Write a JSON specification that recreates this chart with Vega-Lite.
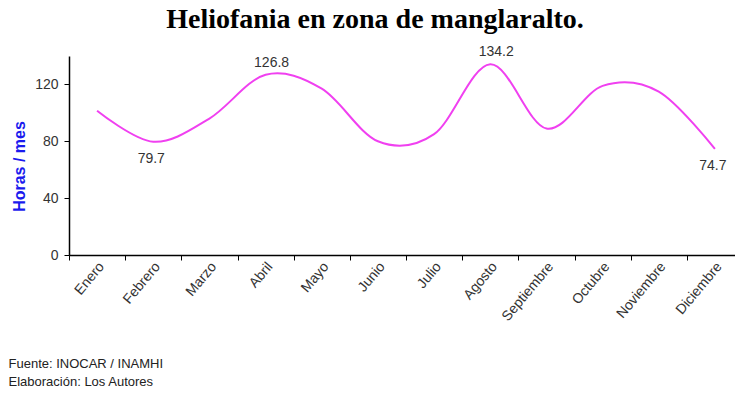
{
  "$schema": "https://vega.github.io/schema/vega-lite/v6.json",
  "autosize": "none",
  "width": 666,
  "height": 199,
  "padding": {"left": 69, "top": 56, "right": 0, "bottom": 145},
  "background": "white",
  "title": {
    "text": "Heliofania en zona de manglaralto.",
    "font": "Liberation Serif",
    "fontSize": 28,
    "fontWeight": "bold",
    "color": "#000000",
    "anchor": "middle",
    "frame": "group",
    "dx": -27,
    "offset": 11
  },
  "data": {
    "values": [
      {"mes": "Enero", "horas": 101.5, "pos": ""},
      {"mes": "Febrero", "horas": 79.7, "pos": "abajo"},
      {"mes": "Marzo", "horas": 96, "pos": ""},
      {"mes": "Abril", "horas": 126.8, "pos": "arriba"},
      {"mes": "Mayo", "horas": 117, "pos": ""},
      {"mes": "Junio", "horas": 80, "pos": ""},
      {"mes": "Julio", "horas": 85, "pos": ""},
      {"mes": "Agosto", "horas": 134.2, "pos": "arriba"},
      {"mes": "Septiembre", "horas": 89, "pos": ""},
      {"mes": "Octubre", "horas": 119, "pos": ""},
      {"mes": "Noviembre", "horas": 115, "pos": ""},
      {"mes": "Diciembre", "horas": 74.7, "pos": "abajo"}
    ]
  },
  "encoding": {
    "x": {
      "field": "mes",
      "type": "nominal",
      "sort": null,
      "scale": {"range": [0, 674], "paddingInner": 0, "paddingOuter": 0},
      "axis": {
        "title": ["Fuente: INOCAR / INAMHI", "Elaboración: Los Autores"],
        "titleFont": "Liberation Sans",
        "titleFontSize": 13,
        "titleFontWeight": "normal",
        "titleColor": "#222222",
        "titleAnchor": "start",
        "titleAlign": "left",
        "titleX": -61,
        "titleY": 102,
        "titleBaseline": "top",
        "titleLineHeight": 18,
        "labelAngle": -50,
        "labelFont": "Liberation Sans",
        "labelFontSize": 14,
        "labelColor": "#333333",
        "labelPadding": 4,
        "labelOffset": 4,
        "labelAlign": "right",
        "labelBaseline": "middle",
        "tickBand": "extent",
        "tickSize": 5,
        "tickColor": "#000000",
        "domainColor": "#000000",
        "domainWidth": 1.5,
        "grid": false
      }
    },
    "y": {
      "field": "horas",
      "type": "quantitative",
      "scale": {"domain": [0, 140]},
      "axis": {
        "values": [0, 40, 80, 120],
        "title": "Horas / mes",
        "titleColor": "#1a1aee",
        "titleFont": "Liberation Sans",
        "titleFontSize": 16,
        "titleFontWeight": "bold",
        "titleX": -50,
        "titleY": 110,
        "titleAngle": -90,
        "titleAlign": "center",
        "titleBaseline": "middle",
        "labelFont": "Liberation Sans",
        "labelFontSize": 14,
        "labelColor": "#333333",
        "labelPadding": 6,
        "tickSize": 5,
        "tickColor": "#000000",
        "domainColor": "#000000",
        "domainWidth": 1.5,
        "grid": false
      }
    }
  },
  "layer": [
    {
      "mark": {"type": "line", "color": "#f040f0", "strokeWidth": 2, "interpolate": "cardinal", "tension": 0}
    },
    {
      "transform": [{"filter": "datum.pos === 'arriba'"}],
      "mark": {"type": "text", "dy": -12, "dx": 6, "font": "Liberation Sans", "fontSize": 14, "color": "#333333"},
      "encoding": {"text": {"field": "horas", "type": "quantitative", "format": ".1f"}}
    },
    {
      "transform": [{"filter": "datum.pos === 'abajo'"}],
      "mark": {"type": "text", "dy": 17, "dx": -2, "font": "Liberation Sans", "fontSize": 14, "color": "#333333"},
      "encoding": {"text": {"field": "horas", "type": "quantitative", "format": ".1f"}}
    }
  ],
  "config": {"view": {"stroke": null}}
}
